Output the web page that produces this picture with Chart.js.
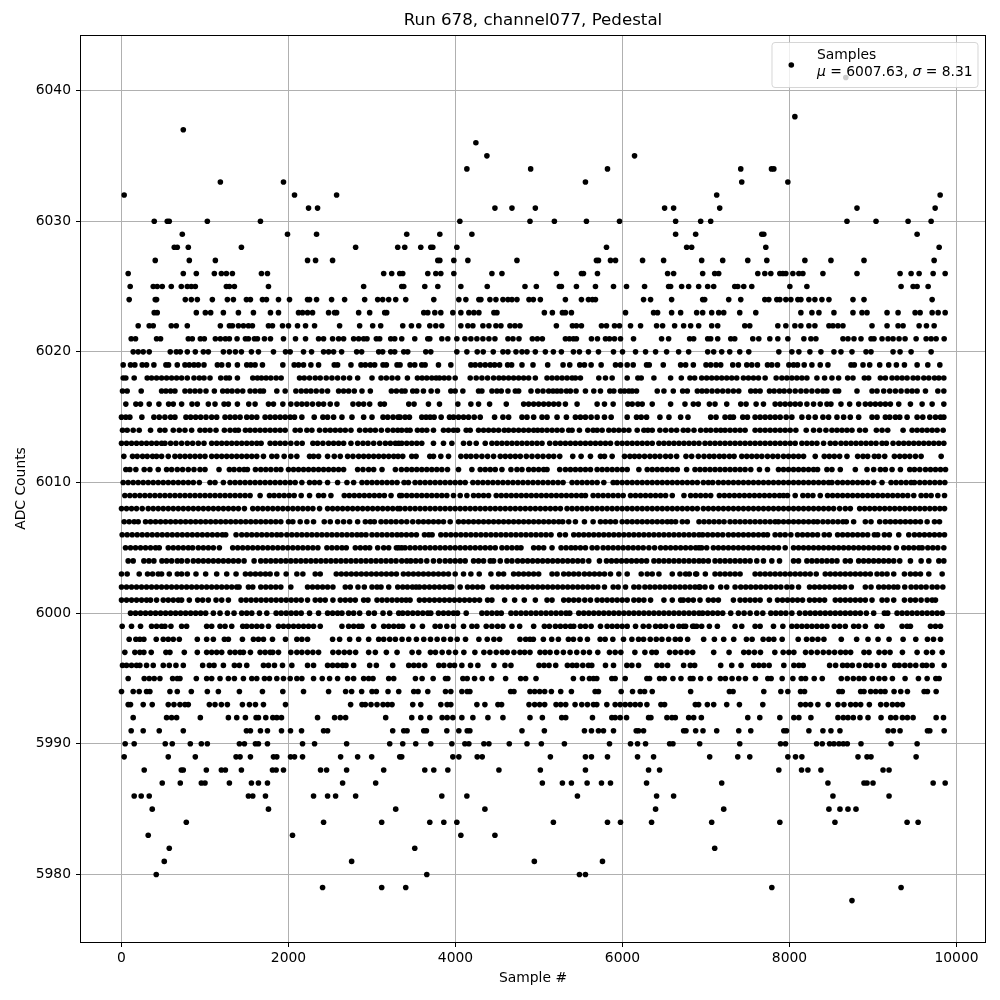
<!DOCTYPE html>
<html>
<head>
<meta charset="utf-8">
<title>Run 678, channel077, Pedestal</title>
<script src="https://cdn.jsdelivr.net/npm/chart.js@4/dist/chart.umd.min.js"></script>
<style>
	html, body { margin: 0; padding: 0; background: #fff; }
	canvas { display: block; }
</style>
</head>
<body>
<canvas id="myChart" width="1000" height="1000"></canvas>
<script>
const xTicks = [0, 2000, 4000, 6000, 8000, 10000];
const yTicks = [5980, 5990, 6000, 6010, 6020, 6030, 6040];

// sample numbers, one list per ADC level
const s6041 = [8674];
const s6038 = [8064];
const s6037 = [740];
const s6036 = [4244];
const s6035 = [4376, 6144];
const s6034 = [4136, 4900, 5820, 7416, 7784, 7812];
const s6033 = [1184, 1940, 5556, 7428, 7980];
const s6032 = [32, 2072, 2576, 7128, 9804];
const s6031 = [2240, 2348, 4472, 4676, 4956, 6504, 6612, 7164, 8808, 9744];
const s6030 = [392, 548, 572, 1028, 1664, 4052, 4892, 5184, 5568, 5964, 6636, 6936, 7056, 8688, 9036, 9420, 9696];
const s6029 = [728, 1988, 2336, 3416, 3812, 4196, 6636, 6876, 7668, 7692, 9528];
const s6028 = [632, 668, 800, 1436, 2804, 3308, 3392, 3584, 3704, 3728, 4016, 5808, 6768, 6828, 7716, 9792];
const s6027 = [404, 812, 1124, 2228, 2324, 2528, 3788, 3812, 3980, 4148, 4736, 5688, 5712, 5856, 5916, 6240, 6492, 6948, 7200, 7500, 7728, 8184, 8496, 8892, 9732];
const s6026 = [80, 740, 896, 1112, 1196, 1256, 1328, 1676, 1748, 3140, 3236, 3332, 3368, 3668, 3764, 3824, 3980, 4436, 4556, 5208, 5508, 5532, 5700, 6540, 6612, 6960, 7104, 7152, 7620, 7704, 7776, 7884, 7920, 7956, 8040, 8112, 8160, 8400, 8808, 9324, 9456, 9552, 9720, 9864];
const s6025 = [104, 380, 428, 488, 596, 716, 788, 836, 884, 1256, 1292, 1352, 1760, 2900, 3356, 3380, 3632, 3788, 4064, 4380, 4832, 4968, 5244, 5268, 5448, 5676, 5892, 6048, 6264, 6552, 6576, 6708, 6792, 6912, 7020, 7092, 7344, 7380, 7452, 7548, 8004, 8208, 9336, 9480, 9528, 9660];
const s6024 = [92, 404, 420, 764, 836, 908, 1088, 1268, 1340, 1496, 1544, 1688, 1736, 1880, 2012, 2228, 2252, 2336, 2516, 2672, 2912, 3068, 3128, 3200, 3284, 3404, 3740, 4040, 4124, 4280, 4304, 4412, 4484, 4568, 4628, 4676, 4736, 4880, 4932, 5016, 5316, 5508, 5592, 5640, 5676, 6252, 6336, 6588, 6960, 6984, 7272, 7416, 7704, 7752, 7848, 7884, 7956, 8016, 8100, 8136, 8232, 8304, 8388, 8472, 8760, 8892, 9708];
const s6023 = [392, 428, 896, 1004, 1068, 1220, 1400, 1580, 1784, 1880, 2120, 2168, 2228, 2288, 2480, 2552, 2576, 2840, 2972, 3152, 3176, 3620, 3668, 3752, 3824, 3968, 4064, 4160, 4220, 4280, 4460, 4496, 5064, 5160, 5280, 5316, 5388, 6036, 6372, 6420, 6588, 6696, 6888, 6960, 7068, 7152, 7212, 7404, 7596, 8136, 8268, 8352, 8532, 8760, 8868, 8928, 9168, 9300, 9504, 9564, 9708, 9780, 9864];
const s6022 = [200, 332, 380, 596, 656, 788, 1184, 1292, 1328, 1400, 1460, 1520, 1568, 1760, 1808, 1928, 2000, 2108, 2204, 2312, 2612, 2852, 3008, 3104, 3368, 3472, 3560, 3692, 3764, 3836, 4064, 4148, 4208, 4328, 4400, 4484, 4544, 4652, 4712, 4772, 5208, 5400, 5448, 5508, 5748, 5808, 5904, 5964, 6096, 6216, 6408, 6480, 6624, 6732, 6816, 6912, 7068, 7140, 7464, 7524, 7860, 7956, 8064, 8136, 8232, 8304, 8472, 8520, 8580, 8640, 8988, 9168, 9300, 9360, 9552, 9640, 9732];
const s6021 = [116, 168, 420, 468, 800, 848, 944, 992, 1124, 1184, 1244, 1292, 1384, 1484, 1520, 1592, 1628, 1712, 1784, 1940, 2084, 2204, 2360, 2420, 2528, 2600, 2660, 2780, 2840, 2900, 2940, 3052, 3092, 3224, 3272, 3356, 3512, 3668, 3692, 3836, 3908, 4016, 4112, 4184, 4256, 4328, 4400, 4472, 4628, 4688, 4760, 4920, 4980, 5040, 5316, 5364, 5412, 5448, 5628, 5700, 5796, 5844, 5904, 5976, 6132, 6468, 6552, 6804, 6852, 7020, 7056, 7140, 7296, 7344, 7560, 7632, 7764, 7860, 7980, 8172, 8256, 8316, 8640, 8700, 8772, 8856, 8976, 9012, 9108, 9180, 9240, 9312, 9384, 9516, 9636, 9696, 9756, 9852];
const s6020 = [140, 200, 260, 332, 584, 656, 704, 788, 884, 980, 1040, 1220, 1292, 1364, 1436, 1556, 1640, 1820, 1964, 2020, 2180, 2276, 2420, 2480, 2540, 2636, 2816, 2876, 3080, 3128, 3224, 3272, 3380, 3428, 3644, 3704, 4016, 4136, 4260, 4332, 4452, 4568, 4628, 4724, 4796, 4856, 4956, 5076, 5172, 5268, 5412, 5484, 5592, 5712, 5892, 6000, 6156, 6276, 6396, 6528, 6672, 6792, 7020, 7092, 7188, 7284, 7404, 7512, 7872, 8028, 8112, 8244, 8376, 8532, 8616, 8748, 8916, 8976, 9240, 9324, 9456, 9696];
const s6019 = [20, 108, 160, 248, 300, 388, 532, 564, 668, 760, 812, 868, 920, 988, 1148, 1200, 1280, 1388, 1500, 1548, 1600, 1688, 1932, 2068, 2120, 2180, 2268, 2360, 2548, 2588, 2748, 2868, 2920, 2980, 3032, 3132, 3172, 3300, 3336, 3456, 3512, 3596, 3636, 3796, 3944, 4184, 4236, 4296, 4356, 4416, 4468, 4528, 4624, 4672, 4796, 4928, 5104, 5288, 5368, 5488, 5544, 5624, 5744, 5916, 5976, 6056, 6128, 6288, 6320, 6488, 6696, 6756, 6848, 7000, 7056, 7120, 7176, 7320, 7388, 7488, 7548, 7616, 7736, 7788, 7856, 7992, 8048, 8096, 8176, 8268, 8368, 8460, 8736, 8776, 8880, 8960, 9080, 9188, 9280, 9376, 9528, 9656, 9800];
const s6018 = [20, 52, 152, 308, 360, 420, 480, 540, 600, 660, 720, 788, 868, 932, 988, 1060, 1188, 1252, 1292, 1388, 1572, 1628, 1676, 1732, 1788, 1852, 1912, 2132, 2188, 2252, 2320, 2380, 2452, 2520, 2588, 2660, 2732, 2828, 3000, 3108, 3172, 3240, 3308, 3424, 3544, 3600, 3656, 3716, 3768, 3808, 3864, 3920, 3996, 4176, 4248, 4316, 4384, 4456, 4520, 4576, 4636, 4696, 4756, 4816, 4876, 4956, 5096, 5156, 5216, 5276, 5336, 5396, 5436, 5496, 5716, 5796, 5876, 6056, 6184, 6224, 6376, 6576, 6704, 6808, 6864, 6948, 7008, 7068, 7128, 7188, 7248, 7308, 7368, 7448, 7508, 7568, 7628, 7708, 7840, 7908, 7968, 8028, 8088, 8148, 8208, 8328, 8420, 8508, 8588, 8696, 8760, 8896, 8948, 9088, 9148, 9228, 9288, 9348, 9408, 9480, 9536, 9608, 9668, 9736, 9788, 9848];
const s6017 = [12, 68, 236, 480, 532, 588, 640, 760, 820, 880, 940, 1012, 1112, 1212, 1268, 1324, 1388, 1452, 1540, 1600, 1660, 1700, 1860, 1960, 2088, 2152, 2212, 2268, 2332, 2400, 2468, 2600, 2660, 2720, 2788, 2880, 2980, 3232, 3292, 3356, 3396, 3488, 3536, 3616, 3708, 3784, 3944, 3996, 4088, 4276, 4316, 4436, 4496, 4548, 4628, 4716, 4756, 4904, 4984, 5048, 5116, 5168, 5216, 5264, 5328, 5376, 5444, 5556, 5656, 5736, 5848, 5896, 5976, 6024, 6076, 6116, 6168, 6416, 6496, 6608, 6720, 6776, 6896, 6952, 7008, 7072, 7136, 7200, 7264, 7328, 7392, 7536, 7592, 7648, 7760, 7816, 7880, 7936, 8000, 8068, 8136, 8200, 8268, 8336, 8400, 8448, 8548, 8588, 8808, 8988, 9048, 9128, 9200, 9268, 9336, 9408, 9468, 9528, 9628, 9776, 9848];
const s6016 = [52, 172, 228, 332, 448, 564, 620, 720, 844, 908, 1040, 1120, 1228, 1280, 1388, 1524, 1600, 1760, 1820, 1932, 2028, 2100, 2160, 2220, 2288, 2360, 2420, 2500, 2580, 2772, 2840, 2900, 2972, 3100, 3148, 3440, 3504, 3676, 3808, 4028, 4184, 4276, 4408, 4608, 4816, 4876, 4936, 4996, 5056, 5116, 5176, 5236, 5316, 5456, 5696, 5784, 5888, 6064, 6116, 6184, 6236, 6356, 6576, 6748, 6848, 6908, 7040, 7108, 7248, 7416, 7480, 7600, 7688, 7828, 7888, 7948, 8008, 8068, 8128, 8208, 8288, 8368, 8448, 8496, 8616, 8720, 8828, 8908, 8968, 9028, 9088, 9148, 9208, 9308, 9448, 9588, 9708, 9848];
const s6015 = [0, 52, 100, 244, 388, 452, 520, 588, 640, 772, 828, 888, 948, 1012, 1080, 1140, 1240, 1300, 1360, 1420, 1500, 1560, 1620, 1720, 1780, 1840, 1900, 1960, 2020, 2072, 2160, 2308, 2412, 2468, 2540, 2640, 2760, 2900, 3000, 3132, 3188, 3252, 3312, 3336, 3396, 3448, 3596, 3648, 3696, 3744, 3828, 3928, 3976, 4036, 4096, 4156, 4224, 4296, 4468, 4568, 4636, 4796, 4856, 4936, 5036, 5096, 5216, 5328, 5436, 5496, 5556, 5624, 5696, 5784, 5864, 6056, 6168, 6224, 6288, 6448, 6556, 6696, 6784, 7056, 7120, 7228, 7288, 7328, 7440, 7496, 7588, 7648, 7708, 7768, 7828, 7888, 7960, 8028, 8148, 8228, 8308, 8400, 8468, 8568, 8648, 8728, 8828, 8988, 9048, 9148, 9200, 9268, 9320, 9408, 9528, 9596, 9680, 9748, 9808, 9848];
const s6014 = [12, 68, 140, 212, 348, 460, 520, 620, 692, 760, 840, 940, 1000, 1060, 1132, 1232, 1300, 1360, 1400, 1484, 1540, 1600, 1660, 1720, 1780, 1840, 1900, 1960, 2080, 2140, 2220, 2280, 2372, 2440, 2500, 2560, 2620, 2680, 2748, 2852, 2920, 2980, 3040, 3112, 3188, 3252, 3308, 3356, 3416, 3456, 3544, 3600, 3656, 3736, 3856, 3916, 3976, 4024, 4128, 4176, 4276, 4336, 4396, 4456, 4516, 4584, 4636, 4696, 4756, 4816, 4876, 4936, 4984, 5036, 5096, 5156, 5216, 5276, 5356, 5396, 5484, 5584, 5648, 5696, 5756, 5836, 5896, 5956, 6016, 6076, 6176, 6256, 6304, 6356, 6448, 6516, 6584, 6648, 6728, 6784, 6856, 6936, 7000, 7056, 7120, 7176, 7228, 7288, 7348, 7408, 7468, 7588, 7648, 7708, 7768, 7828, 7888, 7948, 8008, 8076, 8200, 8288, 8360, 8436, 8508, 8568, 8628, 8688, 8748, 8840, 8908, 9040, 9108, 9176, 9360, 9468, 9528, 9588, 9648, 9708, 9768, 9840];
const s6013 = [0, 60, 120, 180, 240, 300, 360, 420, 480, 520, 588, 652, 720, 788, 852, 920, 988, 1080, 1140, 1200, 1260, 1320, 1380, 1440, 1500, 1560, 1620, 1672, 1780, 1840, 1900, 1960, 2028, 2100, 2164, 2292, 2348, 2412, 2480, 2540, 2600, 2660, 2748, 2828, 2892, 2952, 3020, 3092, 3160, 3220, 3280, 3320, 3356, 3416, 3476, 3536, 3596, 3736, 3856, 3956, 4096, 4168, 4248, 4356, 4436, 4496, 4556, 4616, 4676, 4736, 4796, 4856, 4916, 4976, 5036, 5128, 5196, 5256, 5316, 5376, 5436, 5496, 5556, 5616, 5676, 5736, 5796, 5856, 5936, 5996, 6056, 6116, 6176, 6236, 6296, 6356, 6436, 6496, 6556, 6616, 6676, 6736, 6796, 6856, 6916, 6988, 7048, 7108, 7168, 7228, 7288, 7348, 7408, 7468, 7528, 7588, 7648, 7708, 7768, 7828, 7888, 7948, 8008, 8068, 8148, 8208, 8268, 8328, 8408, 8488, 8548, 8616, 8676, 8736, 8796, 8856, 8916, 8976, 9036, 9108, 9160, 9240, 9308, 9368, 9428, 9488, 9548, 9608, 9668, 9728, 9788, 9848];
const s6012 = [28, 132, 188, 252, 308, 372, 420, 480, 560, 640, 700, 760, 820, 880, 940, 1000, 1080, 1140, 1200, 1260, 1320, 1380, 1440, 1500, 1560, 1620, 1700, 1800, 1860, 1948, 2028, 2100, 2252, 2300, 2360, 2468, 2548, 2620, 2708, 2772, 2840, 2900, 2960, 3020, 3080, 3140, 3200, 3260, 3312, 3368, 3476, 3528, 3692, 3736, 3824, 3916, 4064, 4128, 4184, 4248, 4316, 4384, 4456, 4536, 4596, 4656, 4716, 4776, 4848, 4916, 4984, 5048, 5116, 5176, 5248, 5404, 5504, 5616, 5736, 5784, 5876, 6024, 6088, 6144, 6200, 6264, 6328, 6388, 6448, 6516, 6576, 6648, 6760, 6828, 6908, 6976, 7040, 7096, 7160, 7216, 7280, 7336, 7428, 7488, 7548, 7608, 7668, 7736, 7800, 7860, 7928, 7988, 8048, 8108, 8168, 8308, 8416, 8476, 8536, 8600, 8688, 8816, 8880, 8936, 9016, 9068, 9140, 9256, 9320, 9380, 9440, 9508, 9576, 9816];
const s6011 = [52, 100, 172, 272, 340, 440, 540, 600, 668, 732, 800, 868, 940, 1000, 1168, 1292, 1348, 1412, 1468, 1508, 1604, 1668, 1728, 1788, 1852, 1908, 2000, 2060, 2120, 2180, 2240, 2300, 2360, 2420, 2480, 2540, 2600, 2660, 2828, 2892, 2960, 3020, 3120, 3280, 3352, 3416, 3476, 3536, 3596, 3656, 3716, 3776, 3836, 3904, 4036, 4196, 4296, 4356, 4416, 4476, 4556, 4664, 4736, 4796, 4876, 4936, 4996, 5056, 5096, 5248, 5316, 5376, 5436, 5496, 5556, 5616, 5696, 5756, 5816, 5876, 5936, 5996, 6056, 6196, 6296, 6356, 6416, 6476, 6536, 6596, 6656, 6768, 6868, 6928, 6988, 7048, 7108, 7168, 7228, 7288, 7348, 7408, 7468, 7536, 7640, 7736, 7868, 7928, 7988, 8048, 8108, 8168, 8228, 8288, 8336, 8448, 8508, 8608, 8788, 8928, 9008, 9088, 9148, 9228, 9328, 9440, 9496, 9560, 9628, 9688, 9748, 9808, 9868];
const s6010 = [20, 80, 140, 200, 260, 320, 380, 440, 500, 560, 620, 680, 740, 800, 860, 932, 1060, 1120, 1220, 1300, 1360, 1420, 1480, 1540, 1600, 1660, 1720, 1780, 1840, 1900, 1960, 2020, 2080, 2160, 2252, 2312, 2372, 2468, 2588, 2700, 2780, 2880, 2940, 3000, 3060, 3120, 3180, 3240, 3300, 3384, 3436, 3516, 3576, 3636, 3696, 3756, 3816, 3876, 3936, 3996, 4056, 4116, 4208, 4268, 4328, 4388, 4448, 4508, 4568, 4628, 4688, 4748, 4808, 4868, 4928, 4988, 5048, 5108, 5168, 5228, 5288, 5396, 5456, 5516, 5576, 5636, 5696, 5776, 5888, 5936, 5996, 6056, 6116, 6176, 6236, 6296, 6356, 6416, 6476, 6536, 6596, 6656, 6716, 6776, 6836, 6896, 6968, 7028, 7080, 7148, 7208, 7268, 7328, 7388, 7448, 7508, 7568, 7628, 7688, 7748, 7808, 7868, 7928, 7988, 8048, 8108, 8168, 8228, 8288, 8348, 8408, 8468, 8508, 8576, 8636, 8696, 8756, 8816, 8876, 8936, 9008, 9108, 9216, 9276, 9336, 9396, 9456, 9496, 9560, 9620, 9680, 9740, 9800, 9860];
const s6009 = [40, 100, 160, 220, 280, 340, 400, 460, 520, 580, 640, 700, 760, 820, 880, 940, 1000, 1060, 1120, 1180, 1240, 1300, 1360, 1420, 1480, 1540, 1660, 1772, 1828, 1888, 1948, 2008, 2068, 2152, 2252, 2360, 2420, 2508, 2668, 2728, 2788, 2848, 2908, 2968, 3028, 3088, 3148, 3228, 3332, 3356, 3416, 3476, 3536, 3596, 3656, 3716, 3776, 3836, 3896, 3976, 4056, 4136, 4216, 4276, 4336, 4396, 4488, 4548, 4608, 4668, 4728, 4788, 4848, 4908, 4968, 5028, 5088, 5148, 5208, 5268, 5328, 5388, 5448, 5508, 5556, 5648, 5708, 5768, 5828, 5888, 5948, 6008, 6096, 6156, 6216, 6276, 6336, 6396, 6456, 6516, 6596, 6736, 6816, 6876, 6936, 6996, 7056, 7160, 7220, 7280, 7340, 7400, 7460, 7520, 7580, 7640, 7700, 7760, 7820, 7880, 7928, 7976, 8068, 8160, 8220, 8280, 8368, 8456, 8516, 8576, 8636, 8696, 8756, 8816, 8876, 8936, 8996, 9056, 9116, 9176, 9236, 9296, 9356, 9416, 9488, 9576, 9636, 9696, 9776, 9856];
const s6008 = [0, 60, 120, 180, 248, 320, 380, 440, 500, 560, 620, 680, 740, 800, 860, 920, 980, 1040, 1100, 1160, 1220, 1280, 1340, 1400, 1472, 1572, 1632, 1692, 1752, 1812, 1872, 1932, 1992, 2052, 2112, 2172, 2232, 2292, 2372, 2468, 2528, 2588, 2648, 2708, 2768, 2828, 2888, 2948, 3008, 3068, 3128, 3188, 3248, 3308, 3336, 3396, 3456, 3516, 3576, 3636, 3696, 3756, 3816, 3876, 3936, 3996, 4056, 4116, 4176, 4236, 4296, 4356, 4416, 4476, 4536, 4596, 4656, 4716, 4776, 4836, 4896, 4956, 5016, 5076, 5136, 5196, 5256, 5336, 5396, 5456, 5516, 5576, 5636, 5696, 5756, 5816, 5876, 5936, 5996, 6056, 6116, 6176, 6236, 6296, 6356, 6416, 6476, 6536, 6596, 6656, 6716, 6776, 6836, 6896, 6968, 7028, 7088, 7148, 7208, 7268, 7328, 7388, 7448, 7508, 7568, 7628, 7688, 7748, 7808, 7868, 7928, 7988, 8048, 8108, 8168, 8228, 8288, 8348, 8408, 8468, 8528, 8600, 8668, 8728, 8840, 8900, 8960, 9020, 9080, 9140, 9200, 9260, 9320, 9380, 9440, 9500, 9560, 9620, 9680, 9740, 9800, 9856];
const s6007 = [32, 92, 152, 200, 288, 348, 408, 468, 528, 588, 648, 708, 768, 828, 888, 948, 1008, 1068, 1128, 1188, 1248, 1308, 1368, 1428, 1488, 1548, 1608, 1668, 1728, 1788, 1848, 1908, 2000, 2052, 2140, 2220, 2300, 2428, 2500, 2588, 2660, 2732, 2828, 2920, 2980, 3028, 3108, 3168, 3228, 3288, 3352, 3416, 3488, 3556, 3616, 3676, 3736, 3796, 3856, 3936, 4036, 4096, 4156, 4216, 4276, 4336, 4396, 4456, 4516, 4576, 4636, 4696, 4756, 4816, 4876, 4936, 4996, 5056, 5116, 5176, 5236, 5284, 5356, 5436, 5544, 5648, 5736, 5796, 5856, 5916, 5996, 6056, 6116, 6176, 6236, 6296, 6356, 6416, 6476, 6536, 6584, 6636, 6716, 6776, 6916, 6976, 7036, 7096, 7156, 7216, 7288, 7348, 7408, 7468, 7528, 7588, 7648, 7708, 7768, 7828, 7868, 7928, 7988, 8048, 8108, 8168, 8228, 8288, 8336, 8400, 8460, 8520, 8580, 8640, 8680, 8768, 8908, 8976, 9080, 9148, 9208, 9268, 9328, 9388, 9448, 9508, 9568, 9648, 9736, 9796];
const s6006 = [8, 68, 128, 188, 248, 308, 368, 428, 488, 548, 608, 668, 728, 788, 848, 908, 968, 1028, 1088, 1148, 1208, 1248, 1372, 1440, 1500, 1560, 1620, 1680, 1740, 1800, 1860, 1912, 1980, 2040, 2100, 2160, 2220, 2280, 2340, 2400, 2460, 2520, 2580, 2640, 2700, 2760, 2820, 2872, 2928, 3000, 3060, 3120, 3180, 3240, 3300, 3352, 3412, 3472, 3532, 3628, 3680, 3720, 3824, 3884, 3944, 4004, 4064, 4124, 4184, 4244, 4304, 4364, 4424, 4484, 4544, 4604, 4664, 4724, 4784, 4844, 4904, 4964, 5024, 5084, 5144, 5248, 5316, 5416, 5476, 5536, 5596, 5656, 5716, 5776, 5836, 5896, 5956, 6016, 6076, 6136, 6196, 6256, 6316, 6376, 6436, 6496, 6556, 6616, 6676, 6736, 6796, 6856, 6916, 6960, 7020, 7080, 7140, 7200, 7268, 7328, 7388, 7448, 7508, 7568, 7628, 7688, 7736, 7828, 7888, 7948, 8016, 8096, 8156, 8216, 8276, 8336, 8416, 8476, 8576, 8636, 8696, 8756, 8816, 8876, 8936, 9016, 9056, 9136, 9196, 9308, 9428, 9496, 9556, 9616, 9676, 9736, 9796, 9856];
const s6005 = [48, 108, 168, 228, 288, 348, 408, 452, 560, 620, 680, 740, 800, 852, 920, 980, 1040, 1100, 1172, 1332, 1392, 1452, 1512, 1572, 1632, 1692, 1752, 1812, 1872, 1932, 1992, 2052, 2112, 2172, 2232, 2292, 2352, 2460, 2520, 2580, 2640, 2692, 2800, 2860, 2920, 2972, 3068, 3140, 3200, 3292, 3320, 3356, 3396, 3456, 3516, 3576, 3636, 3696, 3756, 3816, 3876, 3936, 3996, 4056, 4116, 4176, 4236, 4296, 4356, 4416, 4476, 4556, 4616, 4676, 4736, 4784, 4936, 4996, 5056, 5156, 5264, 5324, 5384, 5436, 5496, 5556, 5636, 5696, 5768, 5828, 5888, 5948, 6008, 6068, 6128, 6188, 6248, 6316, 6384, 6456, 6516, 6576, 6636, 6696, 6756, 6816, 6876, 6916, 6948, 7008, 7088, 7148, 7208, 7268, 7328, 7388, 7448, 7508, 7568, 7628, 7688, 7748, 7808, 7868, 7948, 8048, 8108, 8168, 8228, 8288, 8348, 8408, 8468, 8528, 8588, 8648, 8708, 8768, 8828, 8888, 8948, 9008, 9068, 9128, 9188, 9280, 9368, 9428, 9488, 9548, 9588, 9656, 9716, 9776, 9848];
const s6004 = [80, 140, 268, 328, 388, 484, 540, 600, 668, 720, 788, 860, 920, 980, 1040, 1100, 1160, 1220, 1280, 1340, 1400, 1468, 1588, 1668, 1728, 1788, 1848, 1908, 1968, 2028, 2088, 2148, 2208, 2268, 2328, 2388, 2448, 2508, 2568, 2628, 2688, 2748, 2808, 2868, 2928, 2988, 3048, 3108, 3168, 3228, 3288, 3356, 3416, 3464, 3524, 3584, 3656, 3736, 3808, 3876, 3936, 3996, 4056, 4116, 4216, 4276, 4336, 4416, 4456, 4536, 4616, 4676, 4744, 4804, 4864, 4924, 4984, 5044, 5104, 5164, 5224, 5284, 5344, 5404, 5464, 5524, 5596, 5724, 5808, 5868, 5928, 5988, 6048, 6108, 6168, 6228, 6288, 6376, 6436, 6496, 6556, 6616, 6676, 6736, 6796, 6856, 6916, 6968, 7028, 7108, 7168, 7228, 7288, 7348, 7408, 7468, 7528, 7608, 7688, 7788, 7880, 8048, 8108, 8208, 8268, 8328, 8388, 8448, 8508, 8568, 8668, 8728, 8828, 8888, 8948, 9008, 9068, 9128, 9188, 9248, 9320, 9448, 9576, 9668, 9788, 9848];
const s6003 = [0, 68, 212, 312, 372, 440, 480, 572, 668, 720, 788, 892, 1008, 1140, 1260, 1372, 1484, 1544, 1604, 1664, 1724, 1780, 1860, 1972, 2100, 2172, 2320, 2380, 2572, 2632, 2692, 2752, 2812, 2872, 2932, 2992, 3052, 3112, 3172, 3232, 3292, 3376, 3436, 3496, 3556, 3616, 3676, 3736, 3796, 3856, 3916, 3996, 4096, 4184, 4284, 4424, 4516, 4576, 4696, 4756, 4816, 4876, 4936, 4996, 5156, 5216, 5296, 5356, 5416, 5476, 5544, 5604, 5664, 5724, 5784, 5856, 5956, 6056, 6224, 6296, 6356, 6436, 6596, 6688, 6756, 6800, 6876, 6888, 6992, 7108, 7168, 7228, 7288, 7348, 7408, 7588, 7648, 7708, 7768, 7828, 7888, 7948, 8008, 8068, 8128, 8188, 8248, 8320, 8428, 8488, 8548, 8608, 8668, 8728, 8788, 8848, 8908, 8968, 9048, 9108, 9168, 9248, 9376, 9448, 9508, 9568, 9668, 9828];
const s6002 = [0, 60, 120, 180, 240, 300, 360, 420, 480, 540, 600, 660, 720, 780, 840, 900, 960, 1020, 1080, 1140, 1200, 1260, 1320, 1380, 1408, 1520, 1572, 1668, 1728, 1788, 1848, 1908, 2028, 2228, 2288, 2348, 2408, 2468, 2532, 2680, 2740, 2832, 2908, 3000, 3060, 3108, 3200, 3308, 3368, 3424, 3484, 3528, 3568, 3628, 3688, 3748, 3808, 3868, 3928, 3956, 4056, 4144, 4204, 4264, 4324, 4444, 4504, 4564, 4624, 4684, 4744, 4804, 4864, 4924, 4984, 5044, 5104, 5164, 5224, 5284, 5344, 5404, 5464, 5524, 5584, 5644, 5704, 5784, 5888, 5948, 6036, 6136, 6196, 6268, 6328, 6388, 6448, 6508, 6568, 6628, 6688, 6748, 6808, 6868, 6916, 6928, 6988, 7068, 7176, 7248, 7348, 7416, 7476, 7536, 7596, 7656, 7716, 7776, 7836, 7896, 7968, 8028, 8108, 8240, 8300, 8360, 8420, 8480, 8540, 8600, 8660, 8740, 8908, 8976, 9068, 9128, 9188, 9248, 9296, 9380, 9456, 9516, 9576, 9636, 9708, 9768, 9836];
const s6001 = [0, 60, 120, 180, 240, 300, 348, 420, 500, 560, 620, 680, 720, 812, 912, 972, 1040, 1132, 1200, 1280, 1432, 1492, 1552, 1612, 1672, 1732, 1792, 1852, 1912, 1972, 2032, 2092, 2152, 2228, 2320, 2380, 2440, 2532, 2620, 2680, 2740, 2800, 2900, 2952, 3060, 3120, 3180, 3240, 3300, 3356, 3408, 3456, 3568, 3628, 3688, 3748, 3808, 3868, 3928, 3988, 4048, 4108, 4168, 4228, 4288, 4384, 4436, 4588, 4708, 4824, 4956, 5096, 5156, 5296, 5356, 5416, 5476, 5548, 5616, 5696, 5756, 5816, 5876, 5936, 5996, 6056, 6136, 6196, 6256, 6336, 6496, 6596, 6696, 6728, 6788, 6848, 6928, 7028, 7088, 7148, 7328, 7408, 7468, 7528, 7588, 7648, 7760, 7856, 7916, 7976, 8036, 8096, 8156, 8240, 8300, 8360, 8420, 8548, 8608, 8668, 8728, 8788, 8848, 8908, 8988, 9108, 9168, 9248, 9376, 9448, 9508, 9576, 9648, 9708, 9748];
const s6000 = [108, 168, 228, 288, 348, 408, 468, 528, 588, 648, 708, 768, 828, 888, 948, 1008, 1100, 1180, 1268, 1348, 1440, 1500, 1560, 1652, 1740, 1852, 1912, 1972, 2032, 2092, 2152, 2252, 2360, 2468, 2528, 2588, 2640, 2720, 2780, 2852, 2960, 3028, 3132, 3212, 3320, 3368, 3428, 3488, 3548, 3608, 3668, 3704, 3796, 3856, 3916, 3976, 4024, 4128, 4316, 4376, 4436, 4496, 4548, 4664, 4724, 4784, 4844, 4904, 4964, 5024, 5084, 5144, 5204, 5264, 5324, 5368, 5476, 5536, 5596, 5656, 5716, 5776, 5836, 5896, 5956, 6016, 6076, 6136, 6196, 6256, 6316, 6376, 6436, 6496, 6556, 6616, 6676, 6736, 6796, 6856, 6916, 6960, 7020, 7080, 7140, 7200, 7296, 7388, 7456, 7528, 7608, 7680, 7776, 7836, 7896, 7956, 8028, 8120, 8188, 8248, 8308, 8368, 8428, 8488, 8548, 8608, 8668, 8728, 8788, 8848, 8920, 9008, 9136, 9176, 9288, 9348, 9408, 9468, 9528, 9588, 9648, 9708, 9768, 9828];
const s5999 = [8, 120, 228, 360, 420, 480, 520, 592, 720, 780, 1020, 1080, 1180, 1240, 1320, 1452, 1500, 1560, 1620, 1680, 1760, 1880, 1940, 2000, 2060, 2120, 2180, 2240, 2300, 2380, 2640, 2720, 2780, 2840, 2880, 3020, 3140, 3200, 3260, 3320, 3368, 3488, 3604, 3756, 3816, 3896, 3976, 4096, 4196, 4256, 4368, 4436, 4504, 4568, 4676, 4768, 4936, 5064, 5124, 5196, 5256, 5316, 5376, 5416, 5496, 5556, 5624, 5736, 5816, 5876, 5936, 5996, 6056, 6156, 6248, 6316, 6396, 6456, 6516, 6596, 6676, 6728, 6756, 6840, 6856, 6888, 6948, 7040, 7136, 7348, 7428, 7588, 7648, 7808, 7920, 8028, 8088, 8148, 8208, 8268, 8328, 8388, 8448, 8536, 8600, 8668, 8768, 8828, 8908, 9048, 9108, 9348, 9408, 9448, 9688, 9748, 9808];
const s5998 = [92, 172, 220, 268, 416, 500, 560, 620, 692, 908, 1020, 1100, 1232, 1280, 1448, 1580, 1640, 1700, 1808, 1964, 2100, 2160, 2228, 2528, 2612, 2732, 2840, 2960, 3080, 3140, 3212, 3280, 3360, 3440, 3532, 3620, 3700, 3780, 3860, 3940, 4020, 4120, 4280, 4380, 4460, 4528, 4772, 4840, 4892, 4932, 5052, 5152, 5232, 5352, 5412, 5492, 5580, 5732, 5792, 5884, 6012, 6112, 6192, 6252, 6332, 6404, 6472, 6552, 6632, 6692, 6780, 6972, 7100, 7212, 7332, 7484, 7552, 7684, 7752, 7812, 7912, 8104, 8204, 8272, 8340, 8412, 8620, 8804, 8940, 9060, 9192, 9360, 9512, 9652, 9724, 9808];
const s5997 = [40, 160, 220, 268, 356, 532, 580, 752, 908, 1020, 1080, 1140, 1200, 1300, 1360, 1420, 1460, 1544, 1660, 1720, 1780, 1812, 1880, 2028, 2100, 2160, 2228, 2292, 2360, 2532, 2600, 2668, 2732, 2804, 2960, 3040, 3172, 3300, 3480, 3560, 3700, 3760, 3840, 3920, 4000, 4100, 4232, 4340, 4412, 4488, 4560, 4620, 4700, 4772, 4828, 4892, 5012, 5072, 5132, 5212, 5292, 5372, 5452, 5532, 5604, 5704, 5844, 5912, 5980, 6148, 6268, 6352, 6404, 6564, 6632, 6700, 6772, 6840, 7092, 7276, 7452, 7512, 7580, 7652, 7824, 7924, 7992, 8052, 8192, 8260, 8332, 8404, 8472, 8540, 8612, 8672, 8732, 8892, 8952, 9072, 9140, 9204, 9352, 9528, 9640, 9712, 9828];
const s5996 = [12, 60, 120, 180, 220, 300, 380, 500, 572, 652, 740, 972, 1052, 1108, 1220, 1352, 1412, 1500, 1700, 1760, 1832, 1928, 2040, 2228, 2300, 2468, 2528, 2588, 2648, 2688, 2780, 2972, 3052, 3248, 3440, 3500, 3560, 3632, 3800, 3860, 3932, 3988, 4076, 4180, 4268, 4460, 4592, 4664, 5000, 5060, 5120, 5200, 5340, 5400, 5452, 5524, 5592, 5632, 5796, 5892, 6052, 6112, 6192, 6412, 6472, 6540, 6732, 6812, 6864, 7176, 7308, 7420, 7572, 7632, 7692, 7756, 7932, 8052, 8112, 8164, 8480, 8552, 8636, 8692, 8752, 8832, 8912, 8972, 9052, 9132, 9260, 9312, 9380, 9444, 9512, 9592, 9640, 9708, 9852];
const s5995 = [80, 272, 332, 392, 460, 612, 668, 700, 896, 1020, 1080, 1180, 1280, 1352, 1460, 1560, 1620, 1712, 1772, 1860, 1940, 2020, 2100, 2160, 2300, 2404, 2492, 2588, 2708, 2780, 2900, 2960, 3012, 3200, 3260, 3520, 3600, 3732, 3880, 3908, 4088, 4140, 4228, 4320, 4432, 4600, 4780, 4840, 4964, 5412, 5520, 5604, 5652, 5692, 5872, 5912, 6032, 6292, 6324, 6444, 6500, 6604, 6700, 6812, 6844, 6936, 7044, 7172, 7232, 7312, 7392, 7472, 7592, 7740, 7780, 7912, 8040, 8140, 8192, 8296, 8392, 8620, 8692, 8764, 8832, 8892, 8992, 9072, 9140, 9232, 9384, 9544, 9648, 9752, 9792];
const s5994 = [0, 140, 212, 300, 340, 580, 668, 836, 1028, 1160, 1412, 1688, 1932, 2180, 2480, 2684, 2756, 2876, 3000, 3052, 3192, 3320, 3500, 3552, 3668, 3880, 3944, 4076, 4140, 4172, 4660, 4700, 4892, 4948, 5008, 5068, 5148, 5260, 5388, 5672, 5712, 5984, 6120, 6212, 6264, 6356, 6816, 7280, 7324, 7692, 7896, 7980, 8132, 8180, 8592, 8632, 8852, 8892, 8972, 9032, 9092, 9144, 9252, 9332, 9412, 9612, 9652, 9756];
const s5993 = [80, 108, 260, 368, 560, 628, 700, 760, 800, 1052, 1120, 1196, 1268, 1448, 1532, 1604, 1700, 1964, 2744, 2880, 2920, 2988, 3060, 3132, 3188, 3240, 3488, 3584, 3824, 3900, 3944, 4256, 4352, 4508, 4552, 4880, 4948, 5008, 5068, 5204, 5260, 5320, 5432, 5512, 5580, 5652, 5692, 5812, 5912, 5972, 6032, 6092, 6152, 6212, 6292, 6460, 6504, 6872, 6912, 7016, 7092, 7248, 7400, 7680, 8132, 8192, 8252, 8340, 8464, 8580, 8652, 8732, 8792, 8852, 8956, 9092, 9160, 9232, 9292, 9352];
const s5992 = [140, 540, 600, 660, 944, 1280, 1380, 1484, 1612, 1640, 1728, 1812, 1860, 1916, 2348, 2552, 2620, 2684, 3164, 3476, 3584, 3692, 3840, 3900, 3968, 4076, 4208, 4388, 4568, 4892, 5040, 5272, 5320, 5640, 5872, 5912, 5972, 6048, 6312, 6340, 6532, 6592, 6632, 6792, 6852, 6944, 7500, 7644, 7884, 8052, 8112, 8256, 8580, 8644, 8700, 8764, 8844, 8940, 9096, 9212, 9272, 9352, 9412, 9480, 9756, 9844];
const s5991 = [116, 260, 452, 740, 1496, 1544, 1664, 1748, 1916, 2024, 2156, 2420, 2468, 3248, 3380, 3420, 3620, 3652, 3896, 4040, 4140, 4172, 4796, 5064, 5544, 5628, 5712, 5772, 5892, 6164, 6192, 6252, 6732, 6760, 6876, 6964, 7128, 7392, 7536, 7932, 7964, 8232, 8400, 8496, 8604, 9180, 9244, 9324, 9652, 9680, 9852];
const s5990 = [44, 152, 524, 608, 824, 956, 1028, 1412, 1472, 1604, 1640, 1748, 2168, 2312, 2696, 3212, 3368, 3524, 3704, 3956, 4112, 4160, 4340, 4400, 4644, 4856, 5028, 5304, 5844, 6096, 6180, 6276, 6564, 6604, 6924, 7404, 7892, 7952, 8324, 8392, 8480, 8532, 8592, 8644, 8692, 8856, 9216, 9528];
const s5989 = [32, 560, 884, 1372, 1420, 1544, 1820, 1860, 2024, 2072, 2168, 2624, 2828, 2996, 3332, 3356, 3968, 4040, 4260, 4320, 5136, 5556, 5628, 5820, 6180, 6372, 7044, 7380, 7524, 7980, 8072, 8148, 8820, 8928, 8976, 9516];
const s5988 = [272, 716, 740, 1016, 1196, 1244, 1436, 1808, 1852, 1940, 2384, 2456, 2696, 3140, 3632, 3740, 3908, 4520, 5016, 5556, 6312, 6444, 7872, 8144, 8220, 8376, 9120, 9192];
const s5987 = [488, 704, 956, 1000, 1292, 1556, 1640, 1748, 2648, 3044, 5040, 5280, 5388, 5576, 5748, 5856, 6288, 7188, 8460, 8892, 8928, 9000, 9720, 9864];
const s5986 = [152, 236, 332, 1520, 1572, 1724, 2300, 2468, 2564, 2804, 3836, 4136, 5460, 6408, 6612, 8520, 9192];
const s5985 = [368, 1760, 3284, 4352, 6396, 7212, 8472, 8604, 8700, 8796];
const s5984 = [776, 2420, 3116, 3692, 3860, 4016, 5172, 5820, 5976, 6348, 7068, 7884, 8544, 9408, 9540];
const s5983 = [320, 2048, 4064, 4472];
const s5982 = [572, 3512, 7104];
const s5981 = [512, 2756, 4944, 5760];
const s5980 = [416, 3656, 5484, 5556];
const s5979 = [2408, 3116, 3404, 7788, 9336];
const s5978 = [8748];

const levels = [
	[6041, s6041], [6038, s6038], [6037, s6037], [6036, s6036], [6035, s6035], [6034, s6034],
	[6033, s6033], [6032, s6032], [6031, s6031], [6030, s6030], [6029, s6029], [6028, s6028],
	[6027, s6027], [6026, s6026], [6025, s6025], [6024, s6024], [6023, s6023], [6022, s6022],
	[6021, s6021], [6020, s6020], [6019, s6019], [6018, s6018], [6017, s6017], [6016, s6016],
	[6015, s6015], [6014, s6014], [6013, s6013], [6012, s6012], [6011, s6011], [6010, s6010],
	[6009, s6009], [6008, s6008], [6007, s6007], [6006, s6006], [6005, s6005], [6004, s6004],
	[6003, s6003], [6002, s6002], [6001, s6001], [6000, s6000], [5999, s5999], [5998, s5998],
	[5997, s5997], [5996, s5996], [5995, s5995], [5994, s5994], [5993, s5993], [5992, s5992],
	[5991, s5991], [5990, s5990], [5989, s5989], [5988, s5988], [5987, s5987], [5986, s5986],
	[5985, s5985], [5984, s5984], [5983, s5983], [5982, s5982], [5981, s5981], [5980, s5980],
	[5979, s5979], [5978, s5978],
];

let points = [];
levels.forEach((level) => {
	level[1].forEach((x) => {
		points.push({ x: x, y: level[0] });
	});
});

const fontName = '"DejaVu Sans"';

// box round the axes, and the matplotlib style legend
const framePlugin = {
	id: 'frame',
	afterDatasetsDraw(chart) {
		const ctx = chart.ctx;
		const area = chart.chartArea;
		ctx.save();
		ctx.strokeStyle = '#000';
		ctx.lineWidth = 1;
		ctx.strokeRect(area.left - 0.5, area.top + 0.5, area.right - area.left + 1, area.bottom - area.top);

		ctx.beginPath();
		ctx.roundRect(772, 42.5, 206, 45, 3);
		ctx.fillStyle = 'rgba(255,255,255,0.8)';
		ctx.fill();
		ctx.strokeStyle = 'rgba(204,204,204,0.8)';
		ctx.stroke();

		ctx.beginPath();
		ctx.arc(791.3, 65, 2.8, 0, Math.PI * 2);
		ctx.fillStyle = '#000';
		ctx.fill();

		ctx.textBaseline = 'alphabetic';
		ctx.textAlign = 'left';
		ctx.font = '13.89px ' + fontName;
		ctx.fillText('Samples', 817, 59);

		let x = 817;
		[['\u03bc', true], [' = 6007.63, ', false], ['\u03c3', true], [' = 8.31', false]].forEach((part) => {
			ctx.font = (part[1] ? 'italic ' : '') + '13.89px ' + fontName;
			ctx.fillText(part[0], x, 76);
			x += ctx.measureText(part[0]).width;
		});
		ctx.restore();
	},
};

var ctx = document.getElementById('myChart').getContext('2d');

var chart = new Chart(ctx, {
	type: 'scatter',
	data: {
		datasets: [
			{
				label: 'Samples',
				data: points,
				backgroundColor: '#000',
				borderWidth: 0,
				pointRadius: 2.8,
				pointBorderWidth: 0,
			},
		],
	},
	options: {
		responsive: false,
		animation: false,
		events: [],
		layout: { padding: { left: 0, right: 15, top: 0, bottom: 0 } },
		plugins: {
			legend: { display: false },
			tooltip: { enabled: false },
			title: {
				display: true,
				text: 'Run 678, channel077, Pedestal',
				color: '#000',
				fullSize: false,
				font: { family: fontName, size: 16.67, weight: 'normal', lineHeight: 1.2 },
				padding: { top: 11, bottom: 4 },
			},
		},
		scales: {
			x: {
				type: 'linear',
				min: -485,
				max: 10341,
				afterBuildTicks(axis) {
					axis.ticks = xTicks.map((v) => ({ value: v }));
				},
				afterFit(axis) {
					axis.height = 58;
				},
				grid: { color: '#b0b0b0', lineWidth: 1, tickColor: '#000', tickLength: 5 },
				border: { display: false },
				ticks: {
					color: '#000',
					autoSkip: false,
					maxRotation: 0,
					padding: 3,
					font: { family: fontName, size: 13.89 },
					callback: (v) => String(v),
				},
				title: {
					display: true,
					text: 'Sample #',
					color: '#000',
					font: { family: fontName, size: 13.89 },
					padding: { top: 0, bottom: 13 },
				},
			},
			y: {
				type: 'linear',
				min: 5974.83,
				max: 6044.25,
				afterBuildTicks(axis) {
					axis.ticks = yTicks.map((v) => ({ value: v }));
				},
				afterFit(axis) {
					axis.width = 81;
				},
				grid: { color: '#b0b0b0', lineWidth: 1, tickColor: '#000', tickLength: 5 },
				border: { display: false },
				ticks: {
					color: '#000',
					autoSkip: false,
					padding: 5,
					font: { family: fontName, size: 13.89 },
					callback: (v) => String(v),
				},
				title: {
					display: true,
					text: 'ADC Counts',
					color: '#000',
					font: { family: fontName, size: 13.89 },
					padding: { top: 13, bottom: 0 },
				},
			},
		},
	},
	plugins: [framePlugin],
});
</script>
</body>
</html>
